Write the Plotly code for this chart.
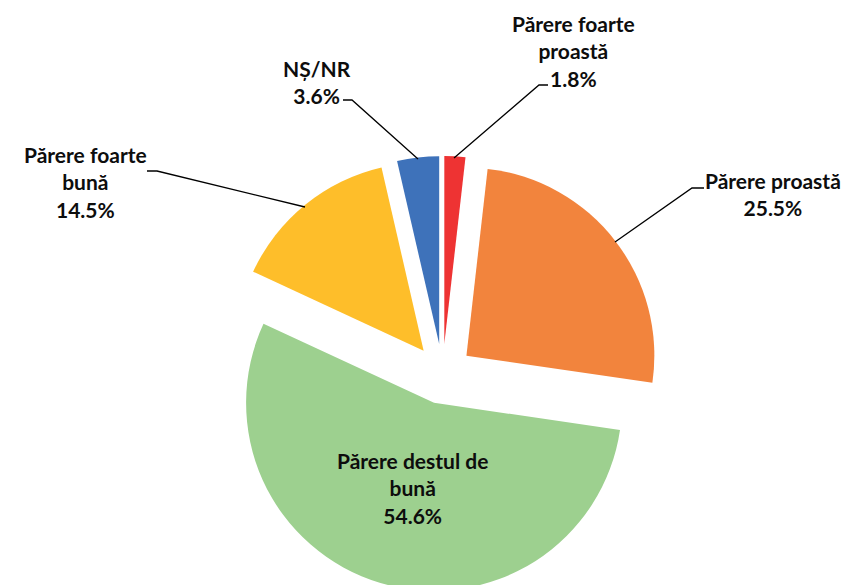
import plotly.graph_objects as go

# ---- data ----
categories = ["Părere foarte proastă", "Părere proastă", "Părere destul de bună",
              "Părere foarte bună", "NȘ/NR"]
display_labels = ["Părere foarte<br>proastă", "Părere proastă", "Părere destul de<br>bună",
                  "Părere foarte<br>bună", "NȘ/NR"]
values = [1.8, 25.5, 54.6, 14.5, 3.6]
colors = ["#EE3333", "#F2843D", "#9DD08F", "#FEBE2A", "#3E72BA"]

W, H = 844, 600


def px(x):
    return x / W


def py(y):
    return 1 - y / H


fig = go.Figure()
fig.add_trace(go.Pie(
    labels=categories,
    values=values,
    sort=False,
    direction="clockwise",
    rotation=0,
    pull=[0.16] * len(values),
    marker=dict(colors=colors, line=dict(width=0)),
    textinfo="none",
    hoverinfo="label+percent",
    showlegend=False,
    domain=dict(x=[224.6 / W, 660.6 / W], y=[1 - 592 / H, 1 - 156 / H]),
))

# label block centres (pixels) and leader-line paths (pixels)
label_pos = [(573, 51), (773, 194), (412, 488), (85, 182), (317, 82)]
leaders = [
    [(548, 85), (539, 85), (454, 158)],
    [(704, 188), (692, 188), (615, 242)],
    None,
    [(147, 171), (157, 171), (305, 207)],
    [(343, 100), (352, 100), (418, 159)],
]

for lab, v, (x, y), ld in zip(display_labels, values, label_pos, leaders):
    fig.add_annotation(
        x=px(x), y=py(y), xref="paper", yref="paper",
        text=f"{lab}<br>{v:.1f}%", showarrow=False,
        xanchor="center", yanchor="middle", align="center",
        font=dict(family="Lato", size=21, color="#0d0d0d", weight="bold"),
    )
    if ld:
        path = "M " + " L ".join(f"{px(a)},{py(b)}" for a, b in ld)
        fig.add_shape(type="path", path=path, xref="paper", yref="paper",
                      line=dict(color="black", width=1.3))

fig.update_layout(
    width=W, height=H,
    margin=dict(l=0, r=0, t=0, b=0),
    paper_bgcolor="white", plot_bgcolor="white",
)

fig.write_html(
    "out.html",
    config={"displayModeBar": False},
    post_script="document.body.style.margin='0';document.body.style.overflow='hidden';",
)
